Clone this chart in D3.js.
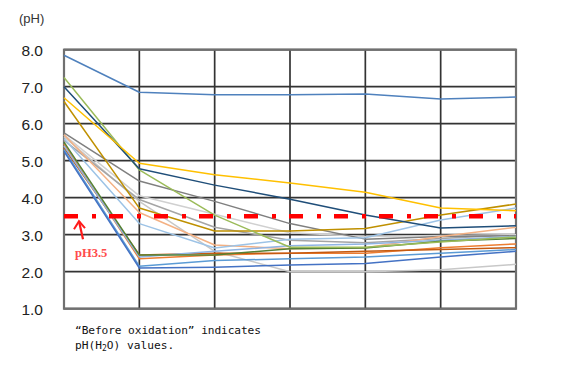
<!DOCTYPE html>
<html><head><meta charset="utf-8">
<script src="https://cdn.jsdelivr.net/npm/d3@7"></script>
<style>
html,body{margin:0;padding:0;background:#fff;}
svg{display:block;}
</style></head>
<body>
<svg id="c" width="563" height="385"></svg>
<script>
// ---- data ----
const steps = [0, 1, 2, 3, 4, 5, 6];
const yTicks = [1, 2, 3, 4, 5, 6, 7, 8];
const threshold = 3.5;
const thresholdLabel = "pH3.5";
const unitLabel = "(pH)";
const seriesColors = ["#4f81bd","#ffc000","#1f4e79","#9bbb59","#bf9000","#7f7f7f","#d0d0d0",
  "#9dc3e6","#f4b183","#548235","#8fb4e3","#ed7d31","#c55a11","#4472c4","#5b9bd5","#c8c8c8","#a5a5a5"];
const s1  = [7.85, 6.85, 6.78, 6.78, 6.80, 6.67, 6.72];
const s2  = [6.70, 4.93, 4.62, 4.40, 4.15, 3.72, 3.65];
const s3  = [7.00, 4.78, 4.34, 3.96, 3.53, 3.18, 3.24];
const s4  = [7.25, 4.75, 3.53, 2.66, 2.66, 2.80, 2.94];
const s5  = [6.60, 3.72, 3.10, 3.10, 3.17, 3.53, 3.83];
const s6  = [5.75, 4.45, 3.90, 3.30, 2.88, 2.95, 2.97];
const s7  = [5.70, 4.05, 3.55, 3.05, 2.95, 2.98, 3.00];
const s8  = [5.60, 3.30, 2.64, 2.88, 2.92, 3.40, 3.72];
const s9  = [5.70, 3.60, 2.72, 2.62, 2.65, 2.95, 3.20];
const s10 = [5.50, 2.45, 2.45, 2.62, 2.64, 2.82, 2.90];
const s11 = [5.40, 2.40, 2.55, 2.70, 2.75, 2.85, 2.95];
const s12 = [5.45, 2.35, 2.45, 2.50, 2.50, 2.65, 2.75];
const s13 = [5.35, 2.45, 2.50, 2.50, 2.55, 2.60, 2.65];
const s14 = [5.25, 2.10, 2.12, 2.18, 2.22, 2.40, 2.55];
const s15 = [5.30, 2.15, 2.30, 2.35, 2.40, 2.50, 2.60];
const s16 = [5.65, 3.90, 2.55, 2.00, 2.00, 2.05, 2.20];
const s17 = [5.55, 3.95, 3.20, 2.85, 2.78, 2.90, 3.00];
const seriesList = [s1,s2,s3,s4,s5,s6,s7,s8,s9,s10,s11,s12,s13,s14,s15,s16,s17];
const noteLine1 = "\u201CBefore oxidation\u201D  indicates";

// ---- chart ----
const svg = d3.select("#c");
const x = d3.scalePoint().domain(steps).range([64, 516]);
const y = d3.scaleLinear().domain([1, 8]).range([308.7, 49.7]);

// grid
const grid = svg.append("g");
grid.selectAll("line.h").data(yTicks).join("line")
  .attr("x1", 64).attr("x2", 516).attr("y1", d => y(d)).attr("y2", d => y(d))
  .attr("stroke", "#333").attr("stroke-width", 1.7);
grid.selectAll("line.v").data(steps).join("line")
  .attr("y1", y(8)).attr("y2", y(1)).attr("x1", d => x(d)).attr("x2", d => x(d))
  .attr("stroke", "#333").attr("stroke-width", 1.7);
svg.append("rect").attr("x", 64).attr("y", y(8)).attr("width", 516-64).attr("height", y(1)-y(8))
  .attr("fill", "none").attr("stroke", "#707070").attr("stroke-width", 2.2);

// y axis labels
const yAxis = d3.axisLeft(y).tickValues(yTicks).tickFormat(d3.format(".1f")).tickSize(0).tickPadding(0);
const ya = svg.append("g").attr("transform", "translate(43,0)").call(yAxis);
ya.select(".domain").remove();
ya.selectAll("text").attr("font-family", "Liberation Sans, Arial, sans-serif")
  .attr("font-size", 15.5).attr("fill", "#222").attr("dy", "0.36em");
svg.append("text").attr("x", 19).attr("y", 23).text(unitLabel)
  .attr("font-family", "Liberation Sans, Arial, sans-serif").attr("font-size", 13).attr("fill", "#333");

// series
const line = d3.line().x((d, i) => x(steps[i])).y(d => y(d)).curve(d3.curveLinear);
const drawOrder = [15,16,6,5,8,7,11,12,10,9,14,13,4,3,2,1,0];
svg.append("g").selectAll("path").data(drawOrder).join("path")
  .attr("d", k => line(seriesList[k]))
  .attr("fill", "none").attr("stroke", k => seriesColors[k]).attr("stroke-width", 1.5)
  .attr("stroke-linejoin", "round");

// threshold line
svg.append("line").attr("x1", 64).attr("x2", 516).attr("y1", y(threshold)).attr("y2", y(threshold))
  .attr("stroke", "#ff0000").attr("stroke-width", 4.5).attr("stroke-dasharray", "14,14,4,13");

// arrow + label
const ay = y(threshold) + 4;
svg.append("path").attr("d", `M83,${ay+19} L79,${ay+1}`).attr("stroke", "#ff1a1a").attr("stroke-width", 2.2).attr("fill", "none");
svg.append("path").attr("d", `M74,${ay+9} L79,${ay+1} L85,${ay+8}`).attr("stroke", "#ff1a1a").attr("stroke-width", 2).attr("fill", "none");
svg.append("text").attr("x", 75).attr("y", ay + 37).text(thresholdLabel)
  .attr("font-family", "Liberation Serif, Times New Roman, serif").attr("font-size", 12.5)
  .attr("fill", "#ff4b4b").attr("font-weight", "bold");

// note
const note = svg.append("g").attr("font-family", "DejaVu Sans Mono, monospace").attr("font-size", 11.2).attr("fill", "#111");
note.append("text").attr("x", 75).attr("y", 334).attr("textLength", 186).attr("lengthAdjust", "spacing").text(noteLine1);
const t2 = note.append("text").attr("x", 75).attr("y", 349);
t2.append("tspan").text("pH(H");
t2.append("tspan").text("2").attr("font-size", 8).attr("dy", 2);
t2.append("tspan").text("O) values.").attr("dy", -2);
</script>
</body></html>
